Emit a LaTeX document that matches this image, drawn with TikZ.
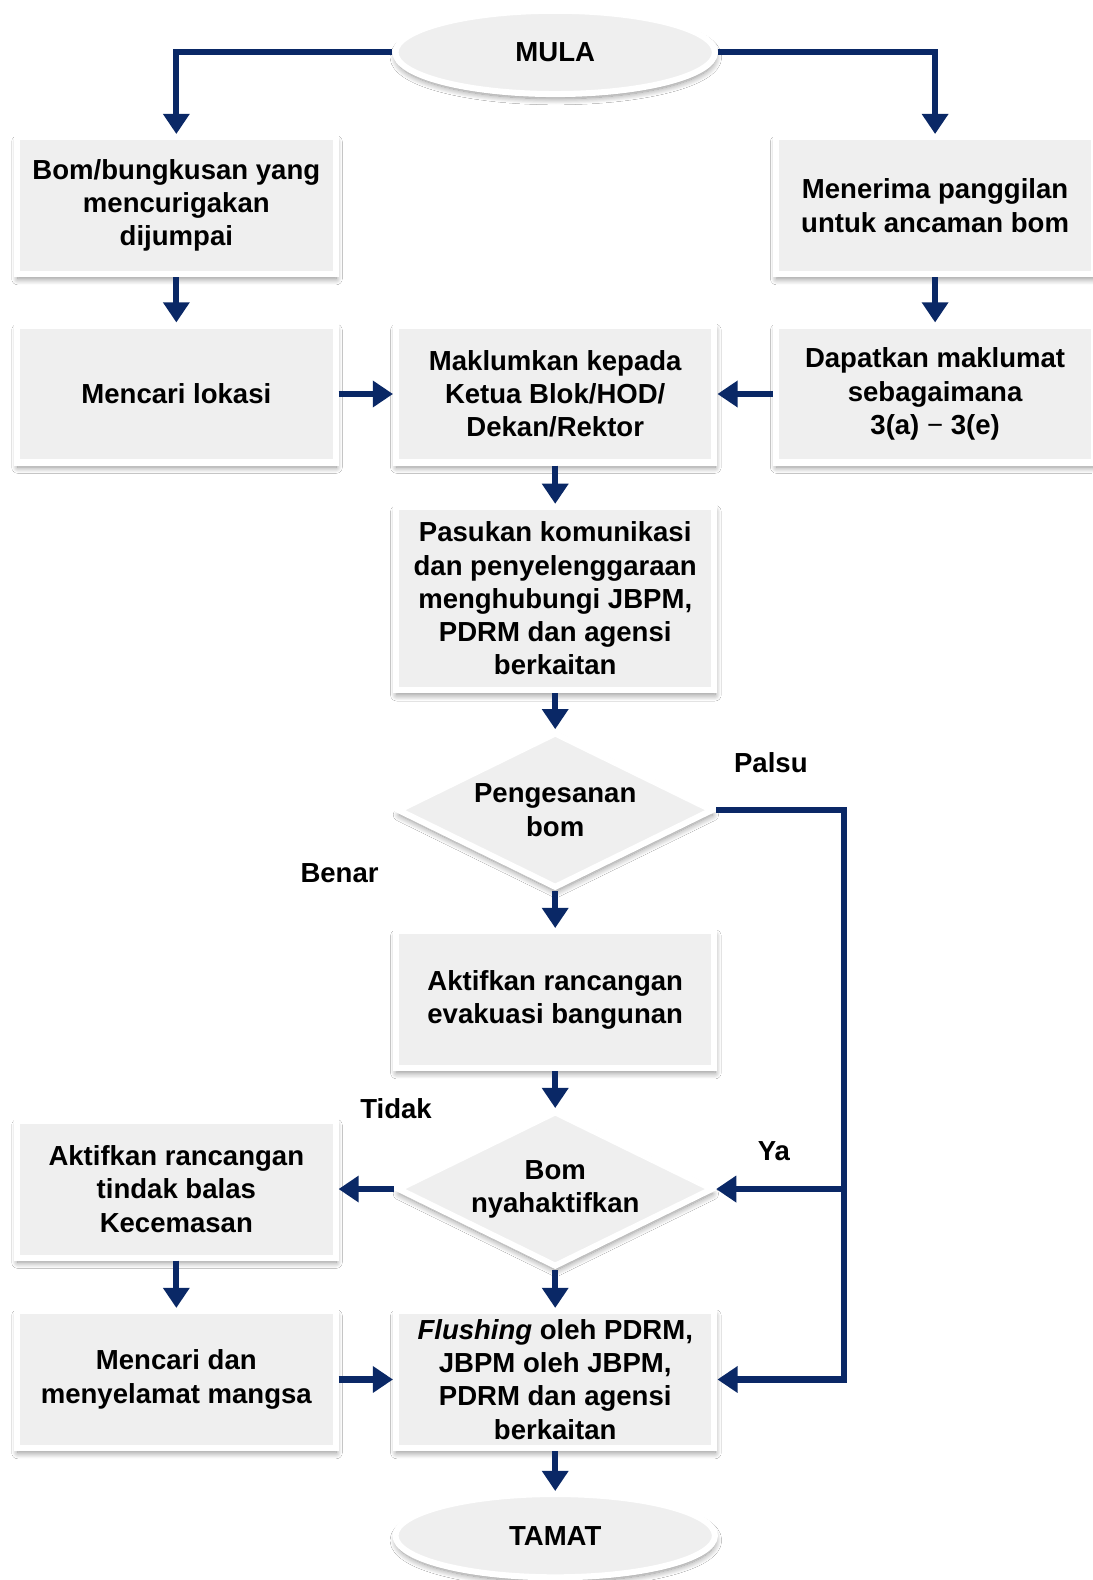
\documentclass[tikz,border=0pt]{standalone}
\usepackage{fontspec}
\setmainfont{Liberation Sans}
\usetikzlibrary{shapes.geometric,arrows.meta,shadows.blur}
\definecolor{navy}{RGB}{10,40,102}
\definecolor{boxgray}{RGB}{239,239,239}
\begin{document}
\begin{tikzpicture}[x=0.75pt,y=-0.75pt,
  every node/.style={font=\fontsize{20.5pt}{24.75pt}\selectfont\bfseries},
  base/.style={fill=boxgray, draw=white, line width=4.5pt,
    blur shadow={shadow xshift=0.5pt, shadow yshift=-3.5pt, shadow blur radius=4.5pt,
      shadow blur steps=12, shadow opacity=45},
    align=center, inner sep=0pt},
  procbox/.style={base, rectangle, minimum width=237pt, minimum height=102pt},
  tallbox/.style={procbox, minimum height=136.5pt},
  terminal/.style={base, ellipse, minimum width=237.75pt, minimum height=62pt},
  decision/.style={base, diamond, aspect=2.05, minimum width=235pt, minimum height=116pt},
  lbl/.style={inner sep=0pt},
  arr/.style={draw=navy, line width=4.5pt, -{Triangle[width=19pt,length=15pt]}},
]
\useasboundingbox (0,0) rectangle (1084,1568);
\fill[white] (0,0) rectangle (1084,1568);

% start and end
\node[terminal] (mula) at (551,52) {MULA};
\node[terminal] (tamat) at (551,1524) {TAMAT};

% process steps
\node[procbox] (b1) at (175,204) {Bom/bungkusan yang\\mencurigakan\\dijumpai};
\node[procbox] (b2) at (928,204) {Menerima panggilan\\untuk ancaman bom};
\node[procbox] (b3) at (175,391) {Mencari lokasi};
\node[procbox] (b4) at (551,391) {Maklumkan kepada\\Ketua Blok/HOD/\\Dekan/Rektor};
\node[procbox] (b5) at (928,391) {Dapatkan maklumat\\sebagaimana\\3(a) {\mdseries\char"2212} 3(e)};
\node[tallbox] (b6) at (551,594) {Pasukan komunikasi\\dan penyelenggaraan\\menghubungi JBPM,\\PDRM dan agensi\\berkaitan};
\node[procbox] (b7) at (551,992) {Aktifkan rancangan\\evakuasi bangunan};
\node[procbox] (b8) at (175,1180) {Aktifkan rancangan\\tindak balas\\Kecemasan};
\node[procbox] (b9) at (175,1369) {Mencari dan\\menyelamat mangsa};
\node[procbox] (b10) at (551,1369) {\textit{Flushing} oleh PDRM,\\JBPM oleh JBPM,\\PDRM dan agensi\\berkaitan};

% decisions
\node[decision] (d1) at (551,804) {Pengesanan\\bom};
\node[decision] (d2) at (551,1180) {Bom\\nyahaktifkan};

% branch labels
\node[lbl] (palsu) at (765,757) {Palsu};
\node[lbl] (benar) at (337,867) {Benar};
\node[lbl] (tidak) at (393,1100) {Tidak};
\node[lbl] (ya) at (768,1142) {Ya};

% connectors
\draw[arr] (mula.west) -| (b1.north);
\draw[arr] (mula.east) -| (b2.north);
\draw[arr] (b1) -- (b3);
\draw[arr] (b2) -- (b5);
\draw[arr] (b3) -- (b4);
\draw[arr] (b5) -- (b4);
\draw[arr] (b4) -- (b6);
\draw[arr] (b6) -- (d1);
\draw[arr] (d1) -- (b7);
\draw[arr] (b7) -- (d2);
\draw[arr] (d2) -- (b8);
\draw[arr] (b8) -- (b9);
\draw[arr] (b9) -- (b10);
\draw[arr] (d2) -- (b10);
\draw[arr] (b10) -- (tamat);

% return bus on the right
\coordinate (bus) at (838,804);
\coordinate (tap) at (838,1180);
\draw[arr] (d1.east) -- (bus) |- (b10.east);
\draw[arr] (tap) -- (d2.east);
\end{tikzpicture}
\end{document}
